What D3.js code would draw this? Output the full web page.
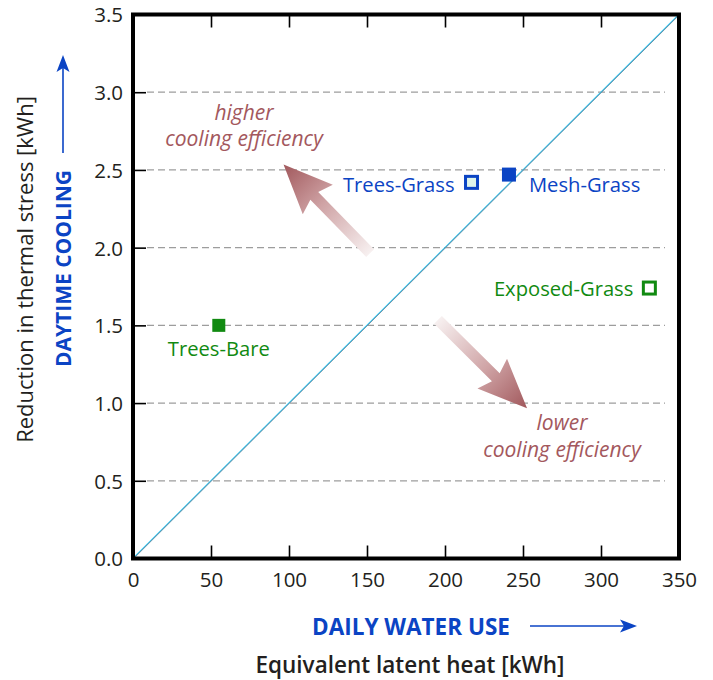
<!DOCTYPE html>
<html>
<head>
<meta charset="utf-8">
<script src="https://cdn.jsdelivr.net/npm/d3@7/dist/d3.min.js"></script>
<style>
  html, body { margin: 0; padding: 0; background: #fff; }
  svg { display: block; font-family: "Open Sans", "Noto Sans", sans-serif; }
</style>
</head>
<body>
<svg id="chart" width="713" height="680"></svg>
<script>
// Site configurations: daily water use vs. daytime cooling
const sites     = ["Trees-Bare", "Trees-Grass", "Mesh-Grass", "Exposed-Grass"];
const waterUse  = [55, 217, 241, 331];        // kWh equivalent latent heat
const cooling   = [1.50, 2.42, 2.47, 1.74];   // kWh reduction in thermal stress
const xTicks    = [0, 50, 100, 150, 200, 250, 300, 350];
const yTicks    = [0.0, 0.5, 1.0, 1.5, 2.0, 2.5, 3.0, 3.5];
const gridLevels = [0.5, 1.0, 1.5, 2.0, 2.5, 3.0];

const BLUE = "#0b44c4", GREEN = "#118a11", ROSE = "#a3585d", INK = "#231f20";

// per-site marker and label styling
const markerStyle = {
  "Trees-Bare":    { color: GREEN, open: false, size: 13, lx: 0,   ly: 31, anchor: "middle" },
  "Trees-Grass":   { color: BLUE,  open: true,  size: 12, lx: -17, ly: 10, anchor: "end" },
  "Mesh-Grass":    { color: BLUE,  open: false, size: 14, lx: 20,  ly: 17, anchor: "start" },
  "Exposed-Grass": { color: GREEN, open: true,  size: 12, lx: -16, ly: 8,  anchor: "end" }
};

const svg = d3.select("#chart");
const x = d3.scaleLinear().domain([0, 350]).range([133, 679]);
const y = d3.scaleLinear().domain([0, 3.5]).range([558.5, 14.5]);
const [x0, x1] = x.range();
const [y0, y1] = y.range();

// gradients for the annotation arrows
const defs = svg.append("defs");
function arrowGradient(id, from, to) {
  const g = defs.append("linearGradient").attr("id", id)
    .attr("gradientUnits", "userSpaceOnUse")
    .attr("x1", from[0]).attr("y1", from[1]).attr("x2", to[0]).attr("y2", to[1]);
  g.append("stop").attr("offset", "0%").attr("stop-color", "#f7f0f0");
  g.append("stop").attr("offset", "55%").attr("stop-color", "#cfa3a5");
  g.append("stop").attr("offset", "100%").attr("stop-color", "#a1585c");
}

// dashed horizontal grid
svg.append("g").selectAll("line").data(gridLevels).join("line")
  .attr("x1", x0 + 14).attr("x2", x1 - 14)
  .attr("y1", d => y(d)).attr("y2", d => y(d))
  .attr("stroke", "#9d9d9d").attr("stroke-width", 1.3)
  .attr("stroke-dasharray", "7,4");

// 1:1 reference line
const diag = [[0, 0], [350, 3.5]];
svg.append("line")
  .attr("x1", x(diag[0][0])).attr("y1", y(diag[0][1]))
  .attr("x2", x(diag[1][0])).attr("y2", y(diag[1][1]))
  .attr("stroke", "#29c4f2").attr("stroke-width", 1.3);
svg.append("line")
  .attr("x1", x(diag[0][0]) + 0.6).attr("y1", y(diag[0][1]))
  .attr("x2", x(diag[1][0]) + 0.6).attr("y2", y(diag[1][1]))
  .attr("stroke", "#8c6f76").attr("stroke-width", 0.8)
  .attr("stroke-opacity", 0.8);

// axes with inward ticks
const tickLen = 13;
const axBottom = svg.append("g").attr("transform", `translate(0,${y0})`)
  .call(d3.axisBottom(x).tickValues(xTicks).tickSizeInner(-tickLen).tickSizeOuter(0).tickPadding(24));
const axTop = svg.append("g").attr("transform", `translate(0,${y1})`)
  .call(d3.axisTop(x).tickValues(xTicks).tickSizeInner(-tickLen).tickSizeOuter(0).tickFormat(""));
const axLeft = svg.append("g").attr("transform", `translate(${x0},0)`)
  .call(d3.axisLeft(y).tickValues(yTicks).tickSizeInner(-tickLen).tickSizeOuter(0)
    .tickPadding(10).tickFormat(d3.format(".1f")));
[axBottom, axTop, axLeft].forEach(g => {
  g.select(".domain").remove();
  g.selectAll(".tick line").attr("stroke", "#000").attr("stroke-width", 1.6);
  g.selectAll(".tick text").attr("fill", INK).attr("font-size", 20.5)
    .attr("font-family", "'Open Sans', sans-serif");
});
axBottom.selectAll(".tick text").attr("dy", "0.2em");
axLeft.selectAll(".tick text").attr("dy", "0.36em");

// plot frame
svg.append("rect")
  .attr("x", x0).attr("y", y1).attr("width", x1 - x0).attr("height", y0 - y1)
  .attr("fill", "none").attr("stroke", "#000").attr("stroke-width", 4);

// annotation arrows (block arrows with gradient)
function blockArrow(id, tail, tip) {
  const t = [x(tail[0]), y(tail[1])], h = [x(tip[0]), y(tip[1])];
  const dx = h[0] - t[0], dy = h[1] - t[1], L = Math.hypot(dx, dy);
  const ux = dx / L, uy = dy / L, px = -uy, py = ux;
  const sw = 5.5, hw = 21, hl = 47, notch = 6;
  const b = L - hl;
  const P = (a, s) => [t[0] + ux * a + px * s, t[1] + uy * a + py * s];
  const pts = [P(0, -sw), P(b + notch * 0.5, -sw), P(b - 2, -hw), P(L, 0),
               P(b - 2, hw), P(b + notch * 0.5, sw), P(0, sw)];
  arrowGradient(id, t, h);
  svg.append("path").attr("d", d3.line()(pts) + "Z").attr("fill", `url(#${id})`);
}
blockArrow("gradUp", [152, 1.965], [96.5, 2.535]);
blockArrow("gradDown", [195.5, 1.535], [252.6, 0.967]);

// annotation text, one element per line
const notes = [
  { text: "higher",             cx: 244, base: 120 },
  { text: "cooling efficiency", cx: 244, base: 146 },
  { text: "lower",              cx: 562, base: 430 },
  { text: "cooling efficiency", cx: 562, base: 457 }
];
svg.append("g").selectAll("text").data(notes).join("text")
  .attr("x", d => d.cx).attr("y", d => d.base)
  .attr("fill", ROSE).attr("font-size", 21).attr("font-style", "italic")
  .attr("text-anchor", "middle").text(d => d.text);

// site markers and labels
const pts = sites.map((s, i) => ({ name: s, wx: waterUse[i], cy: cooling[i], ...markerStyle[s] }));
svg.append("g").selectAll("rect").data(pts).join("rect")
  .attr("x", d => x(d.wx) - d.size / 2).attr("y", d => y(d.cy) - d.size / 2)
  .attr("width", d => d.size).attr("height", d => d.size)
  .attr("fill", d => d.open ? (d.color === BLUE ? "#dff5ea" : "#fff") : d.color)
  .attr("stroke", d => d.color).attr("stroke-width", d => d.open ? 3 : 0);
svg.append("g").selectAll("text").data(pts).join("text")
  .attr("x", d => x(d.wx) + d.lx).attr("y", d => y(d.cy) + d.ly)
  .attr("text-anchor", d => d.anchor).attr("fill", d => d.color)
  .attr("font-size", 20.2).text(d => d.name);

// axis titles
svg.append("text").attr("x", 411).attr("y", 635).attr("text-anchor", "middle")
  .attr("fill", BLUE).attr("font-size", 22.5).attr("font-weight", 700).text("DAILY WATER USE");
svg.append("text").attr("x", 410).attr("y", 673).attr("text-anchor", "middle")
  .attr("fill", INK).attr("font-size", 22.5).attr("font-weight", 600).text("Equivalent latent heat [kWh]");
svg.append("text").attr("transform", "translate(71,268.5) rotate(-90)").attr("text-anchor", "middle")
  .attr("fill", BLUE).attr("font-size", 21).attr("font-weight", 700).text("DAYTIME COOLING");
svg.append("text").attr("transform", "translate(33,269.5) rotate(-90)").attr("text-anchor", "middle")
  .attr("fill", INK).attr("font-size", 22).text("Reduction in thermal stress [kWh]");

// direction arrows next to the bold titles
svg.append("line").attr("x1", 530).attr("y1", 626).attr("x2", 626).attr("y2", 626)
  .attr("stroke", BLUE).attr("stroke-width", 1.6);
svg.append("path").attr("d", "M637,626 L620,619.5 L624,626 L620,632.5 Z").attr("fill", BLUE);
svg.append("line").attr("x1", 63).attr("y1", 153).attr("x2", 63).attr("y2", 66)
  .attr("stroke", BLUE).attr("stroke-width", 1.6);
svg.append("path").attr("d", "M63,55 L56.5,72 L63,68 L69.5,72 Z").attr("fill", BLUE);
</script>
</body>
</html>
